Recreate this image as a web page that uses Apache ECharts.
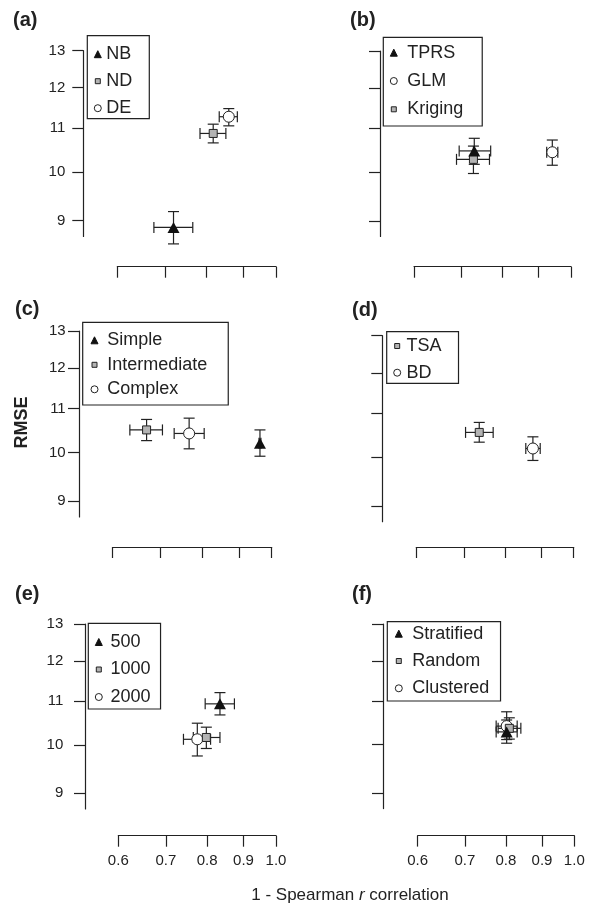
<!DOCTYPE html>
<html>
<head>
<meta charset="utf-8">
<script src="https://cdn.jsdelivr.net/npm/echarts@6/dist/echarts.min.js"></script>
<style>html,body{margin:0;padding:0;background:#fff}#chart{width:591px;height:904px}</style>
</head>
<body>
<div id="chart"></div>
<script>
// ---------- data ----------
const xTicks = [0.6, 0.7, 0.8, 0.9, 1.0];
const yTicks = [9, 10, 11, 12, 13];

// (a)
const namesA = ['NB', 'ND', 'DE'];
const xA = [0.719, 0.817, 0.859];
const xLoA = [0.675, 0.783, 0.833];
const xHiA = [0.765, 0.851, 0.883];
const yA = [8.87, 10.87, 11.27];
const yLoA = [8.56, 10.65, 11.05];
const yHiA = [9.18, 11.09, 11.47];
// (b)
const namesB = ['TPRS', 'GLM', 'Kriging'];
const xB = [0.730, 0.941, 0.728];
const xLoB = [0.695, 0.924, 0.689];
const xHiB = [0.770, 0.958, 0.767];
const yB = [10.47, 10.44, 10.28];
const yLoB = [10.17, 10.15, 9.97];
const yHiB = [10.76, 10.72, 10.58];
// (c)
const namesC = ['Simple', 'Intermediate', 'Complex'];
const xC = [0.963, 0.669, 0.767];
const xLoC = [0.960, 0.634, 0.731];
const xHiC = [0.966, 0.704, 0.805];
const yC = [10.20, 10.50, 10.42];
const yLoC = [9.92, 10.26, 10.08];
const yHiC = [10.50, 10.74, 10.77];
// (d)
const namesD = ['TSA', 'BD'];
const xD = [0.736, 0.876];
const xLoD = [0.704, 0.856];
const xHiD = [0.770, 0.897];
const yD = [10.55, 10.19];
const yLoD = [10.33, 9.93];
const yHiD = [10.78, 10.45];
// (e)
const namesE = ['500', '1000', '2000'];
const xE = [0.834, 0.798, 0.775];
const xLoE = [0.795, 0.765, 0.741];
const xHiE = [0.874, 0.834, 0.809];
const yE = [10.93, 10.16, 10.12];
const yLoE = [10.67, 9.92, 9.76];
const yHiE = [11.20, 10.39, 10.48];
// (f)
const namesF = ['Stratified', 'Random', 'Clustered'];
const xF = [0.802, 0.809, 0.802];
const xLoF = [0.775, 0.780, 0.775];
const xHiF = [0.830, 0.840, 0.830];
const yF = [10.28, 10.36, 10.41];
const yLoF = [10.03, 10.12, 10.11];
const yHiF = [10.55, 10.60, 10.74];

const panelLabels = ['(a)', '(b)', '(c)', '(d)', '(e)', '(f)'];
const yTitle = 'RMSE';

// ---------- layout / style config ----------
const FONT = 'Liberation Sans, Arial, Helvetica, sans-serif';
const INK = '#222';
const Y_MIN = 8.7, Y_MAX = 13;

const panels = [
  { names: namesA, x: xA, xLo: xLoA, xHi: xHiA, y: yA, yLo: yLoA, yHi: yHiA,
    kinds: ['tri', 'sq', 'circ'],
    grid: { left: 117.3, top: 50.7, width: 158.7, height: 185.7 }, yOff: 34, xOff: 30.3,
    yLabels: true, yMargin: 18, xLabels: false,
    lab: { left: 13, top: 10 },
    leg: { left: 87.3, top: 35.7, padding: [9.5, 17, 1.5, 6.5], gap: 9, tpad: 0 } },
  { names: namesB, x: xB, xLo: xLoB, xHi: xHiB, y: yB, yLo: yLoB, yHi: yHiB,
    kinds: ['tri', 'circ', 'sq'],
    grid: { left: 414, top: 51, width: 157, height: 185.4 }, yOff: 34, xOff: 30.3,
    yLabels: false, xLabels: false,
    lab: { left: 350, top: 10 },
    leg: { left: 383.3, top: 37.3, padding: [6.4, 19, 7.7, 6.5], gap: 10.3, tpad: 4.9 } },
  { names: namesC, x: xC, xLo: xLoC, xHi: xHiC, y: yC, yLo: yLoC, yHi: yHiC,
    kinds: ['tri', 'sq', 'circ'],
    grid: { left: 112.7, top: 331, width: 159, height: 186 }, yOff: 33.7, xOff: 30,
    yLabels: true, yMargin: 13.3, xLabels: false,
    lab: { left: 15, top: 299 },
    leg: { left: 82.7, top: 322.3, padding: [9, 21, 6.7, 7.8], gap: 6.5, tpad: 4.2 } },
  { names: namesD, x: xD, xLo: xLoD, xHi: xHiD, y: yD, yLo: yLoD, yHi: yHiD,
    kinds: ['sq', 'circ'],
    grid: { left: 416.3, top: 335.7, width: 157.4, height: 186 }, yOff: 34, xOff: 25.3,
    yLabels: false, xLabels: false,
    lab: { left: 352, top: 300 },
    leg: { left: 386.7, top: 331.7, padding: [5.3, 17, 1.6, 6.5], gap: 8.7, tpad: 0.8 } },
  { names: namesE, x: xE, xLo: xLoE, xHi: xHiE, y: yE, yLo: yLoE, yHi: yHiE,
    kinds: ['tri', 'sq', 'circ'],
    grid: { left: 118.3, top: 624, width: 157.7, height: 184.9 }, yOff: 33.3, xOff: 26.8,
    yLabels: true, yMargin: 21.7, xLabels: true,
    lab: { left: 15, top: 584 },
    leg: { left: 88.3, top: 623.3, padding: [9.7, 10, 3, 6.5], gap: 9.5, tpad: 3.2 } },
  { names: namesF, x: xF, xLo: xLoF, xHi: xHiF, y: yF, yLo: yLoF, yHi: yHiF,
    kinds: ['tri', 'sq', 'circ'],
    grid: { left: 417.7, top: 624, width: 156.6, height: 184.6 }, yOff: 34.7, xOff: 27,
    yLabels: false, xLabels: true,
    lab: { left: 352, top: 584 },
    leg: { left: 387.3, top: 621.7, padding: [3, 11.3, 3.7, 7.5], gap: 9.3, tpad: 4.9 } }
];

const markerStyle = {
  tri:  { symbol: 'triangle', size: [12, 11], z: 5, itemStyle: { color: '#111', borderColor: '#111', borderWidth: 0, opacity: 1 } },
  sq:   { symbol: 'rect', size: 8, z: 4, itemStyle: { color: '#b3b3b3', borderColor: INK, borderWidth: 1, opacity: 1 } },
  circ: { symbol: 'circle', size: 11, z: 3, itemStyle: { color: '#ffffff', borderColor: INK, borderWidth: 1, opacity: 1 } }
};
const legendIcon = {
  tri: 'triangle',
  sq: 'path://M0,0M7,7M1,1L6,1L6,6L1,6Z',
  circ: 'circle'
};

// ---------- error bar renderer ----------
function errRender(params, api) {
  const x = api.value(0), y = api.value(3);
  const c = api.coord([x, y]);
  const l = api.coord([api.value(1), y]);
  const r = api.coord([api.value(2), y]);
  const t = api.coord([x, api.value(5)]);
  const b = api.coord([x, api.value(4)]);
  const h = 5.5;
  const st = { stroke: INK, lineWidth: 1.2 };
  const seg = (x1, y1, x2, y2) => ({ type: 'line', shape: { x1, y1, x2, y2 }, style: st });
  return {
    type: 'group',
    children: [
      seg(l[0], c[1], r[0], c[1]),
      seg(l[0], c[1] - h, l[0], c[1] + h),
      seg(r[0], c[1] - h, r[0], c[1] + h),
      seg(c[0], t[1], c[0], b[1]),
      seg(c[0] - h, t[1], c[0] + h, t[1]),
      seg(c[0] - h, b[1], c[0] + h, b[1])
    ]
  };
}

// ---------- build option ----------
const grid = [], xAxis = [], yAxis = [], legend = [], title = [], series = [];

panels.forEach((p, i) => {
  grid.push(Object.assign({ outerBoundsMode: 'none', containLabel: false }, p.grid));
  const axisLine = { show: true, lineStyle: { color: INK, width: 1.2 } };
  const axisTick = (vals) => ({ show: true, length: 11, inside: false, customValues: vals, lineStyle: { color: INK, width: 1.2 } });
  xAxis.push({
    type: 'log', logBase: 10, gridIndex: i, min: 0.6, max: 1.0, position: 'bottom', offset: p.xOff,
    axisLine, axisTick: axisTick(xTicks), splitLine: { show: false }, minorTick: { show: false },
    axisLabel: { show: p.xLabels, customValues: xTicks, margin: 18, fontSize: 15, color: INK, fontFamily: FONT,
      formatter: v => Number(v).toFixed(1) }
  });
  yAxis.push({
    type: 'log', logBase: 10, gridIndex: i, min: Y_MIN, max: Y_MAX, position: 'left', offset: p.yOff,
    axisLine, axisTick: axisTick(yTicks), splitLine: { show: false }, minorTick: { show: false },
    axisLabel: { show: p.yLabels, customValues: yTicks, margin: p.yMargin || 18, fontSize: 15, color: INK, fontFamily: FONT,
      formatter: v => String(Math.round(v)) }
  });
  title.push({
    text: panelLabels[i], left: p.lab.left, top: p.lab.top, padding: 0,
    textStyle: { fontSize: 20, fontWeight: 'bold', color: INK, fontFamily: FONT }
  });
  legend.push({
    orient: 'vertical', left: p.leg.left, top: p.leg.top, padding: p.leg.padding, itemGap: p.leg.gap,
    itemWidth: 7, itemHeight: 7, selectedMode: false,
    backgroundColor: '#fff', borderColor: INK, borderWidth: 1.2, borderRadius: 0,
    itemStyle: { borderWidth: 1, opacity: 1 },
    textStyle: { fontSize: 18, lineHeight: 18, color: INK, fontFamily: FONT, padding: [0, 0, 0, p.leg.tpad] },
    data: p.names.map((n, j) => ({ name: n, icon: legendIcon[p.kinds[j]] }))
  });
  p.names.forEach((n, j) => {
    series.push({
      type: 'custom', xAxisIndex: i, yAxisIndex: i, z: 2, silent: true, clip: false,
      renderItem: errRender,
      encode: { x: [0, 1, 2], y: [3, 4, 5] },
      data: [[p.x[j], p.xLo[j], p.xHi[j], p.y[j], p.yLo[j], p.yHi[j]]]
    });
    const m = markerStyle[p.kinds[j]];
    series.push({
      type: 'scatter', name: n, xAxisIndex: i, yAxisIndex: i, z: m.z, silent: true,
      symbol: m.symbol, symbolSize: m.size, itemStyle: m.itemStyle,
      data: [[p.x[j], p.y[j]]]
    });
  });
});

const option = {
  backgroundColor: '#fff',
  animation: false,
  textStyle: { fontFamily: FONT },
  title, grid, xAxis, yAxis, legend, series,
  graphic: [
    { type: 'text', x: 21.7, y: 422.5, rotation: Math.PI / 2,
      style: { text: yTitle, fontSize: 18, fontWeight: 'bold', fontFamily: FONT, fill: INK,
        textAlign: 'center', textVerticalAlign: 'middle' } },
    { type: 'text', x: 350, y: 895,
      style: { text: '1 - Spearman {i|r} correlation', fontSize: 17, fontFamily: FONT, fill: INK,
        textAlign: 'center', textVerticalAlign: 'middle',
        rich: { i: { fontStyle: 'italic', fontSize: 17, fontFamily: FONT, fill: INK } } } }
  ]
};

const chart = echarts.init(document.getElementById('chart'), null, { renderer: 'canvas' });
chart.setOption(option);
</script>
</body>
</html>
